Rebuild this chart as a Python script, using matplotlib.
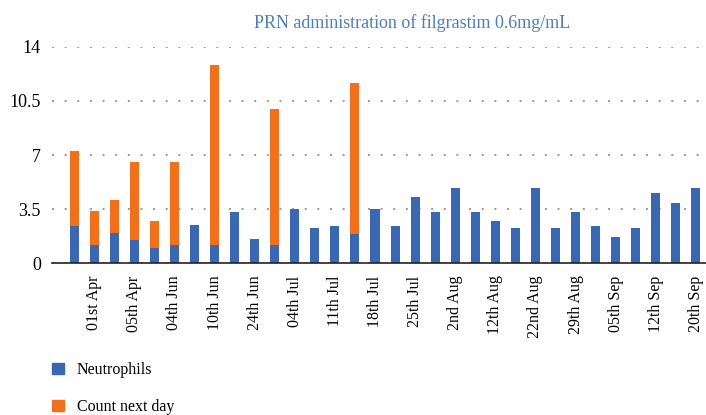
import matplotlib
matplotlib.use("Agg")
import matplotlib.pyplot as plt
import numpy as np
from matplotlib.patches import Patch

tick_labels = ["01st Apr", "05th Apr", "04th Jun", "10th Jun", "24th Jun", "04th Jul",
               "11th Jul", "18th Jul", "25th Jul", "2nd Aug", "12th Aug", "22nd Aug",
               "29th Aug", "05th Sep", "12th Sep", "20th Sep"]

neutrophils = [2.42, 1.19, 1.97, 1.51, 0.99, 1.19, 2.48, 1.19, 3.33, 1.58, 1.19, 3.52,
               2.29, 2.42, 1.90, 3.52, 2.42, 4.30, 3.33, 4.88, 3.33, 2.74, 2.29, 4.88,
               2.29, 3.33, 2.42, 1.71, 2.29, 4.56, 3.91, 4.88]
count_next_day = [4.86, 2.20, 2.13, 5.06, 1.75, 5.38, 0, 11.62, 0, 0, 8.81, 0,
                  0, 0, 9.79, 0, 0, 0, 0, 0, 0, 0, 0, 0,
                  0, 0, 0, 0, 0, 0, 0, 0]
yticks = [0, 3.5, 7, 10.5, 14]

blue = "#3A67B1"
orange = "#F0701C"

plt.rcParams['font.family'] = ['Liberation Serif', 'DejaVu Serif']

fig = plt.figure(figsize=(7.06, 4.15), dpi=100)
ax = fig.add_axes([0.0737, 0.366, 0.9263, 0.521])

x = np.arange(len(neutrophils))
ax.bar(x, neutrophils, width=0.45, color=blue, zorder=3)
ax.bar(x, count_next_day, width=0.45, bottom=neutrophils, color=orange, zorder=3)

ax.set_xlim(-1.1, len(x) - 0.5)
ax.set_ylim(0, 14)
ax.set_yticks(yticks)
ax.set_yticklabels(["0", "3.5", "7", "10.5", "14"], fontsize=13)
ax.set_xticks(x[1::2])
ax.set_xticklabels(tick_labels, rotation=90, fontsize=11.5)
ax.tick_params(axis='y', length=0, pad=8)
ax.tick_params(axis='x', length=0, pad=9)

for s in ["top", "right", "left"]:
    ax.spines[s].set_visible(False)
ax.spines["bottom"].set_color("#222222")
ax.spines["bottom"].set_linewidth(1.2)
ax.spines["bottom"].set_zorder(4)

ax.yaxis.grid(True, color="#999999", linestyle=(0, (1, 5.5)), linewidth=1.4, zorder=0)

fig.text(0.584, 0.945, "PRN administration of filgrastim 0.6mg/mL", ha="center", va="center",
         fontsize=13, color="#4E7FB5")

handles = [Patch(color=blue, label="Neutrophils"), Patch(color=orange, label="Count next day")]
fig.legend(handles=handles, loc="upper left", bbox_to_anchor=(52 / 706, 1 - 362 / 415),
           frameon=False, borderpad=0, borderaxespad=0,
           fontsize=11.5, labelspacing=1.3, handlelength=0.75, handleheight=0.7,
           handletextpad=0.8)

fig.savefig("out.png", dpi=100)
